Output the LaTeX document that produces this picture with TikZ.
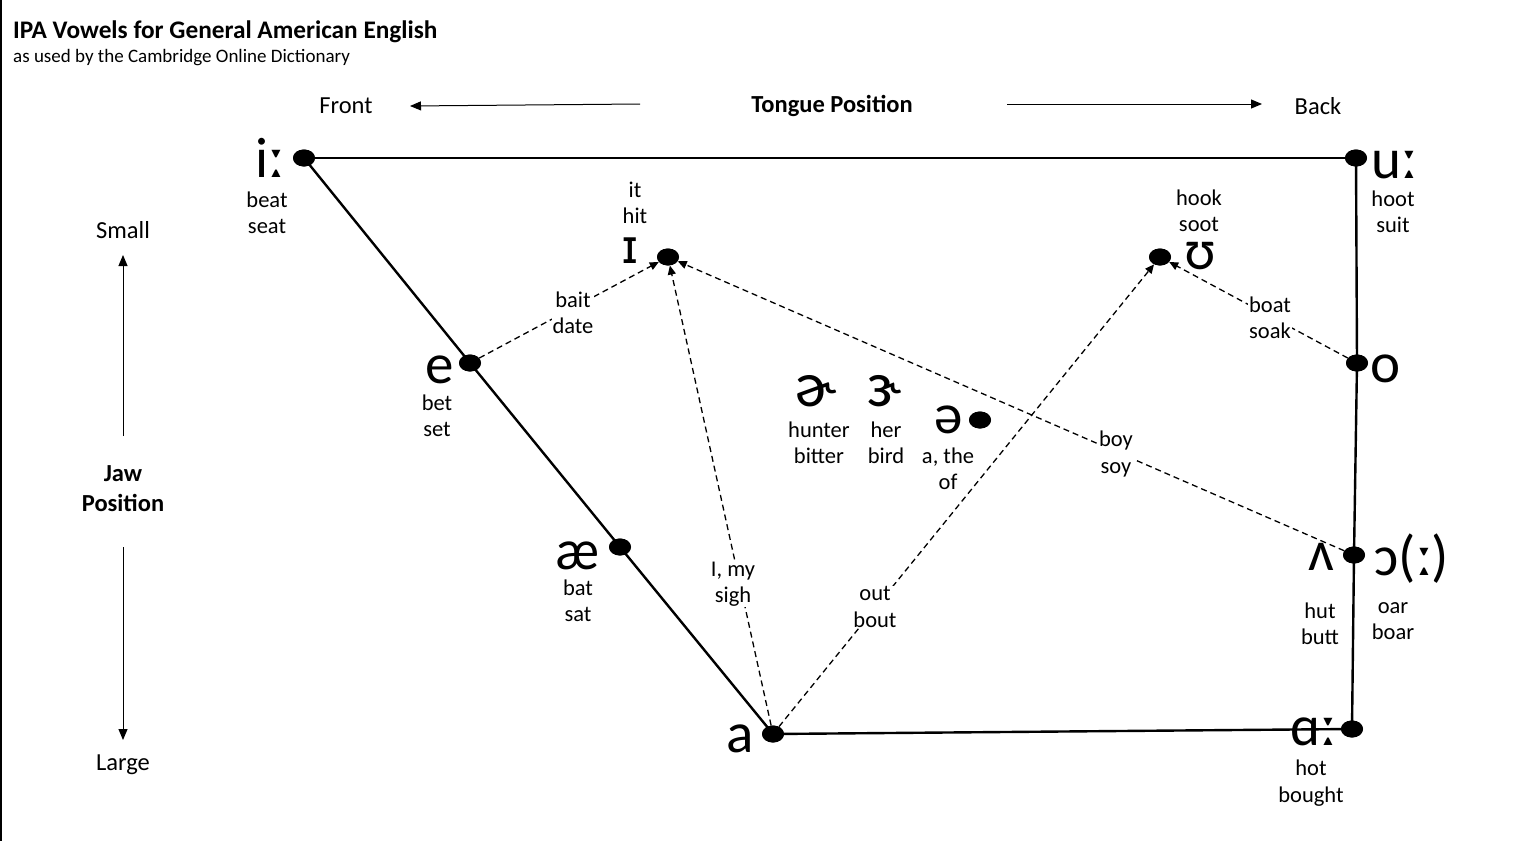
\documentclass[tikz,border=0pt]{standalone}
\usepackage{fontspec}
\setmainfont{Carlito}
\newfontfamily\ipafont{Carlito}
\newfontfamily\ipaalt{DejaVu Sans}
\usetikzlibrary{shapes.geometric,arrows.meta}
\tikzset{
  dot/.style={ellipse,fill=black,draw=none,minimum width=22pt,minimum height=17pt,inner sep=0pt},
  lbl/.style={align=center,inner sep=0pt,font=\fontsize{22.5}{26.5}\selectfont},
  axlbl/.style={align=center,inner sep=1pt,font=\fontsize{24.5}{30}\selectfont},
  dlbl/.style={lbl,fill=white,inner sep=1pt},
  ipa/.style={inner sep=0pt,anchor=base,font=\ipafont\fontsize{57}{57}\selectfont},
  ipabig/.style={ipa,font=\ipafont\fontsize{64}{64}\selectfont},
  solid line/.style={line width=2.4pt},
  dasharrow/.style={line width=1.3pt,dash pattern=on 6pt off 4pt,-{Triangle[length=9pt,width=8pt]}},
  axisarrow/.style={line width=1pt,-{Triangle[length=11pt,width=9pt]}}
}
\begin{document}
\begin{tikzpicture}[x=1pt,y=-1pt]
\useasboundingbox (0,0) rectangle (1528,841);
\fill[white] (0,0) rectangle (1528,841);
\draw[line width=1.5pt] (0.75,0) -- (0.75,841);
% titles
\node[anchor=base west,inner sep=0pt,font=\bfseries\fontsize{25.3}{30}\selectfont] (title) at (13,38) {IPA Vowels for General American English};
\node[anchor=base west,inner sep=0pt,font=\fontsize{19}{22}\selectfont] (sub) at (13,62) {as used by the Cambridge Online Dictionary};
% tongue axis
\node[axlbl] (front) at (346,106) {Front};
\node[axlbl,font=\bfseries\fontsize{24.5}{30}\selectfont] (tongue) at (832,106) {Tongue Position};
\node[axlbl] (back) at (1318,106) {Back};
\coordinate (fa1) at (640,104);
\coordinate (fa2) at (410,106);
\coordinate (ba1) at (1007,104);
\coordinate (ba2) at (1262,104);
\draw[axisarrow] (fa1) -- (fa2);
\draw[axisarrow] (ba1) -- (ba2);
% jaw axis
\node[axlbl] (small) at (123,230) {Small};
\node[axlbl,font=\bfseries\fontsize{24.5}{30}\selectfont] (jaw) at (123,489) {Jaw\\Position};
\node[axlbl] (large) at (123,765) {Large};
\coordinate (ja1) at (123,436);
\coordinate (ja2) at (123,255);
\coordinate (jb1) at (123,547);
\coordinate (jb2) at (123,740);
\draw[axisarrow] (ja1) -- (ja2);
\draw[axisarrow] (jb1) -- (jb2);
% dots
\node[dot] (i) at (304,158) {};
\node[dot] (u) at (1356,158) {};
\node[dot] (I) at (668,257) {};
\node[dot] (U) at (1160,257) {};
\node[dot] (e) at (470,363) {};
\node[dot] (o) at (1357,363) {};
\node[dot] (schwa) at (980,420) {};
\node[dot] (ae) at (620,547) {};
\node[dot] (oo) at (1354,555) {};
\node[dot] (a) at (773,734) {};
\node[dot] (aa) at (1352,729) {};
% solid lines
\draw[solid line] (i.center) -- (u.center);
\draw[solid line] (i.center) -- (e.center) -- (ae.center) -- (a.center);
\draw[solid line] (a.center) -- (aa.center);
\draw[solid line] (u.center) -- (o.center) -- (oo.center) -- (aa.center);
% dashed arrows
\draw[dasharrow] (e) -- (I);
\draw[dasharrow] (a) -- (I);
\draw[dasharrow] (oo) -- (I);
\draw[dasharrow] (a) -- (U);
\draw[dasharrow] (o) -- (U);
% redraw dots on top
\foreach \n in {i,u,I,U,e,o,schwa,ae,oo,a,aa} {\fill (\n) ellipse (11pt and 8.5pt);}
% labels on dashed lines
\node[dlbl] (baitlbl) at (573,313) {bait\\date};
\node[dlbl] (mylbl) at (733,584) {I, my\\sigh};
\node[dlbl] (outlbl) at (875,607) {out\\bout};
\node[dlbl] (boatlbl) at (1270,318) {boat\\soak};
\node[dlbl] (boylbl) at (1116,454) {boy\\soy};
% vowel symbols
\node[ipa] (si) at (270,177) {iː};
\node[lbl] (li) at (267,213) {beat\\seat};
\node[lbl] (lI) at (635,203) {it\\hit};
\node[inner sep=0pt,anchor=base,font=\ipaalt\fontsize{47}{47}\selectfont] (sI) at (630,263) {ɪ};
\node[lbl] (lU) at (1199,211) {hook\\soot};
\node[ipa] (sU) at (1200,269) {ʊ};
\node[ipa] (su) at (1394,178) {uː};
\node[lbl] (lu) at (1393,212) {hoot\\suit};
\node[ipa] (se) at (440,383) {e};
\node[lbl] (le) at (437,416) {bet\\set};
\node[ipa] (so) at (1386,382) {o};
\node[ipabig] (shook) at (816,406) {ɚ};
\node[lbl] (lhook) at (819,443) {hunter\\bitter};
\node[ipabig] (sher) at (884,406) {ɝ};
\node[lbl] (lher) at (886,443) {her\\bird};
\node[ipa] (sschwa) at (949,433) {ə};
\node[lbl] (lschwa) at (948,469) {a, the\\of};
\node[ipa] (sae) at (578,569) {æ};
\node[lbl] (lae) at (578,601) {bat\\sat};
\node[ipa] (sv) at (1321,570) {ʌ};
\node[lbl] (lv) at (1320,624) {hut\\butt};
\node[ipa] (soo) at (1412,575) {ɔ(ː)};
\node[lbl] (loo) at (1393,621) {oar\\boar};
\node[ipa] (sa) at (740,752) {a};
\node[ipa] (saa) at (1313,745) {ɑː};
\node[lbl] (laa) at (1311,783) {hot\\bought};
\end{tikzpicture}
\end{document}
